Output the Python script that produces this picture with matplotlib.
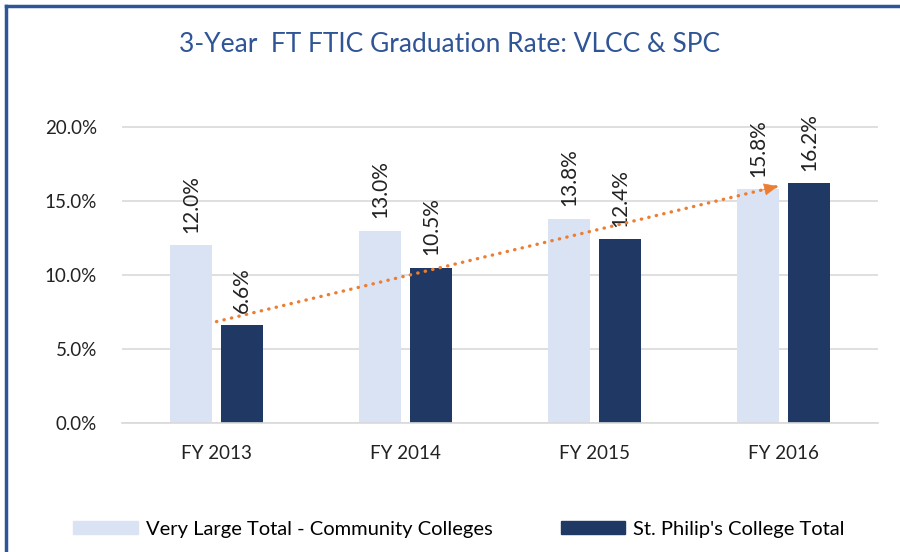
import matplotlib
matplotlib.use('Agg')
import matplotlib.pyplot as plt
from matplotlib.lines import Line2D
from matplotlib.ticker import FuncFormatter
import numpy as np

plt.rcParams['font.family'] = ['Lato', 'DejaVu Sans']

years = ['FY 2013', 'FY 2014', 'FY 2015', 'FY 2016']
vlcc = [12.0, 13.0, 13.8, 15.8]
spc = [6.6, 10.5, 12.4, 16.2]
series_names = ['Very Large Total - Community Colleges', "St. Philip's College Total"]
trend_x = [0.0, 2.97]
trend_y = [6.85, 16.0]

light = '#DAE3F3'
dark = '#203864'
orange = '#ED7D31'

fig = plt.figure(figsize=(9, 5.52), dpi=100)
ax = fig.add_axes([122 / 900, 1 - 423 / 552, 756 / 900, 296 / 552 * 1.02])

x = np.arange(len(years))
w = 0.22
off = 0.135
b1 = ax.bar(x - off, vlcc, w, color=light, label=series_names[0], zorder=2)
b2 = ax.bar(x + off, spc, w, color=dark, label=series_names[1], zorder=2)

for bars, vals in ((b1, vlcc), (b2, spc)):
    for r, v in zip(bars, vals):
        ax.text(r.get_x() + r.get_width() / 2, v + 0.85, f'{v:.1f}%',
                rotation=90, ha='center', va='bottom', fontsize=15, color='#222222')

# dotted trend line + solid arrow head
ax.plot(trend_x, trend_y, color=orange, lw=2.4, linestyle=(0, (0.1, 2.2)),
        dash_capstyle='round', zorder=3)
frac = 0.97
ax.annotate('', xy=(trend_x[1], trend_y[1]),
            xytext=(trend_x[0] + frac * (trend_x[1] - trend_x[0]),
                    trend_y[0] + frac * (trend_y[1] - trend_y[0])),
            arrowprops=dict(arrowstyle='-|>,head_length=0.9,head_width=0.4',
                            color=orange, lw=0.5, shrinkA=0, shrinkB=0), zorder=3)

ax.set_xlim(-0.5, 3.5)
ax.set_ylim(0, 20.4)
ax.set_yticks([0, 5, 10, 15, 20])
ax.yaxis.set_major_formatter(FuncFormatter(lambda v, p: f'{v:.1f}%'))
ax.set_xticks(x)
ax.set_xticklabels(years)
ax.tick_params(axis='both', length=0, labelsize=13.5, colors='#222222')
ax.tick_params(axis='x', pad=16)
ax.tick_params(axis='y', pad=18)
ax.grid(axis='y', color='#D9D9D9', linewidth=1.2, zorder=0)
for s in ['top', 'right', 'left']:
    ax.spines[s].set_visible(False)
ax.spines['bottom'].set_color('#D9D9D9')
ax.spines['bottom'].set_linewidth(1.2)

fig.text(0.5, 1 - 45 / 552, '3-Year  FT FTIC Graduation Rate: VLCC & SPC',
         ha='center', va='center', fontsize=19, color='#2F5597')

handles = [plt.Rectangle((0, 0), 1, 1, color=light), plt.Rectangle((0, 0), 1, 1, color=dark)]
fig.legend(handles, series_names, loc='center left', bbox_to_anchor=(55 / 900, 1 - 529 / 552),
           ncol=2, frameon=False, fontsize=14.5, handlelength=3.2, handleheight=0.65,
           columnspacing=3.4, handletextpad=0.4)

# chart border (top and left edges visible)
fig.add_artist(Line2D([6 / 900, 1], [1 - 6 / 552, 1 - 6 / 552], transform=fig.transFigure,
                      color='#2F5597', lw=2.5))
fig.add_artist(Line2D([6 / 900, 6 / 900], [0, 1 - 6 / 552], transform=fig.transFigure,
                      color='#2F5597', lw=2.5))

fig.savefig('out.png', dpi=100)
